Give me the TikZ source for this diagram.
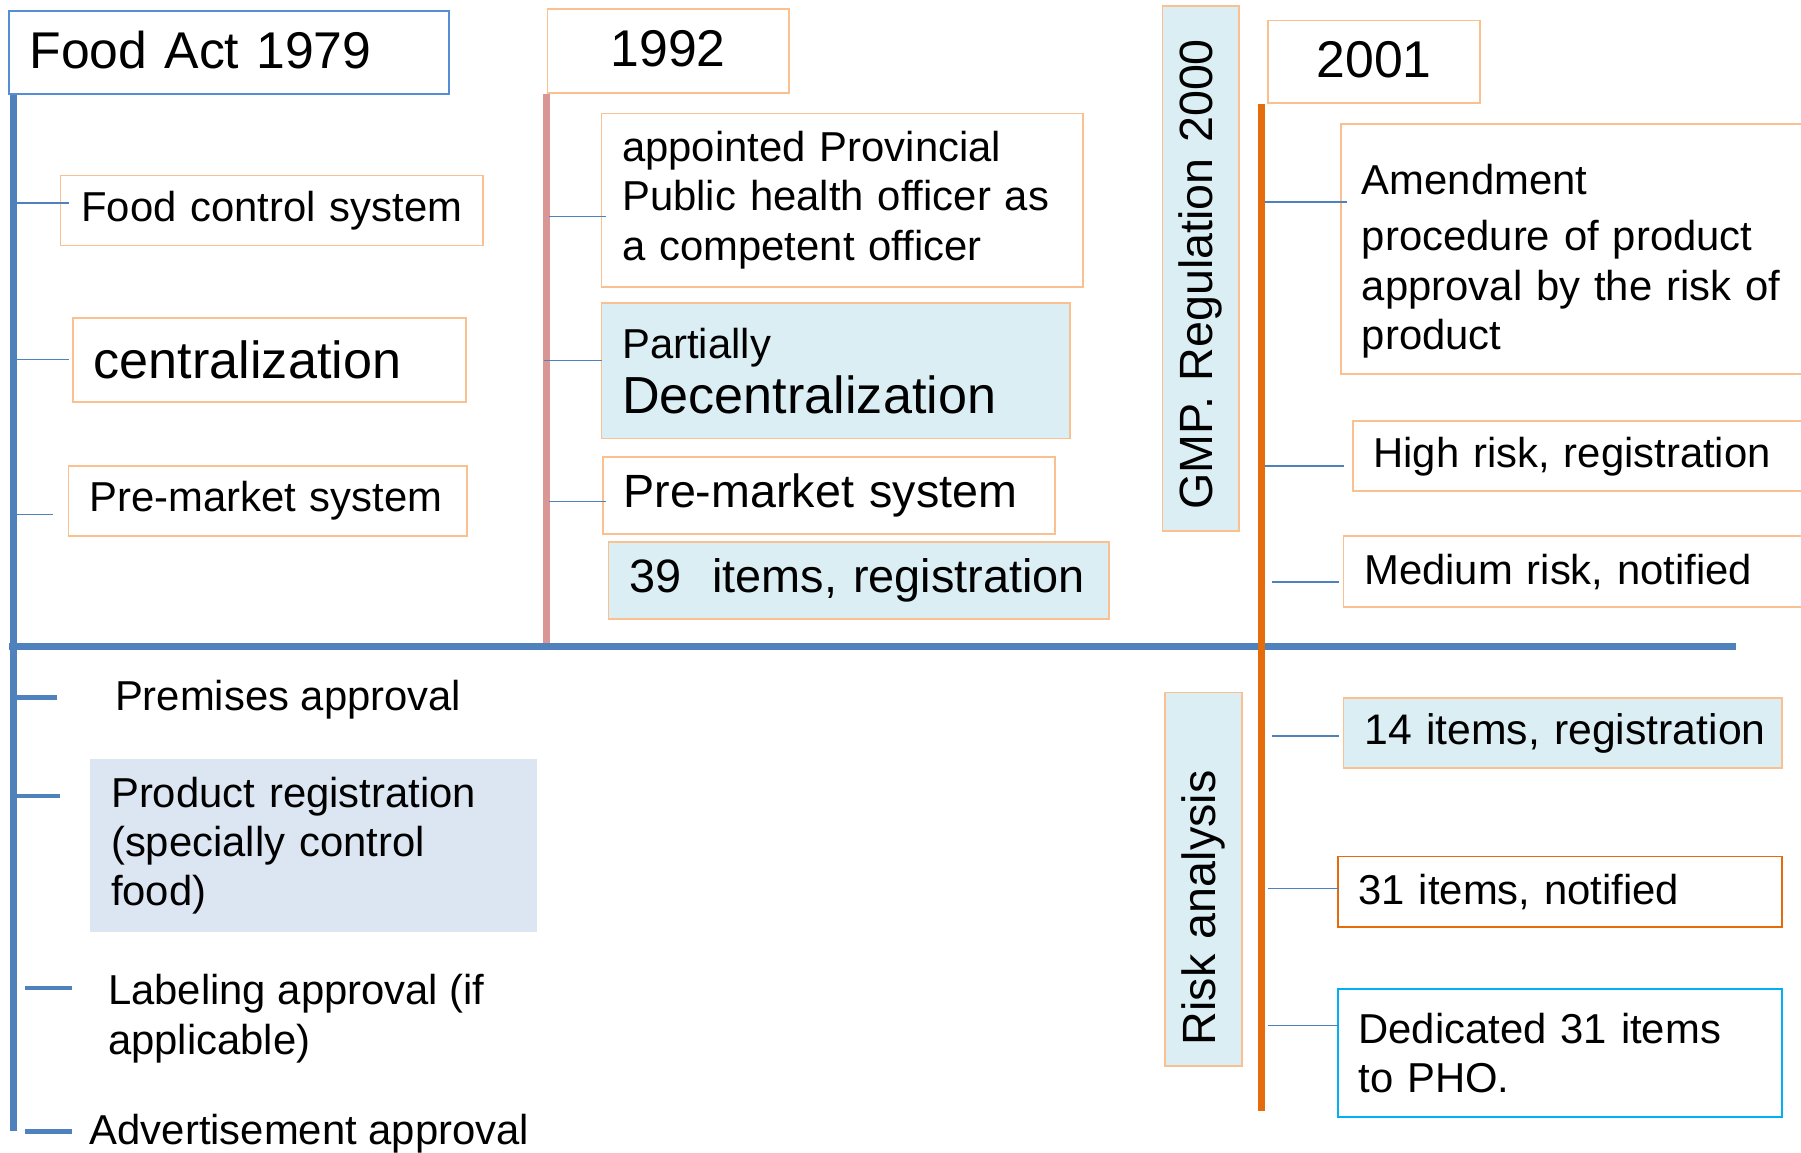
\documentclass[tikz,border=0pt]{standalone}
\usepackage{fontspec}
\setmainfont{Liberation Sans}
\usepackage{tikz}

\definecolor{barblue}{HTML}{4F81BD}
\definecolor{barpink}{HTML}{D99694}
\definecolor{barorange}{HTML}{E46C0A}
\definecolor{boxorange}{HTML}{FAC090}
\definecolor{actblue}{HTML}{558ED5}
\definecolor{fillblue}{HTML}{DBEEF4}
\definecolor{fillgray}{HTML}{DCE6F2}
\definecolor{boxcyan}{HTML}{00B0F0}
\newcommand{\fsz}[2]{\fontsize{#1}{#2}\selectfont}

\begin{document}
\begin{tikzpicture}[x=1pt,y=-1pt,
  box/.style={draw=boxorange,line width=1.5pt,anchor=north west,inner xsep=18pt,inner ysep=0pt,align=left,font=\fsz{36.4}{43}},
  sidebox/.style={box,fill=fillblue,rotate=90,anchor=center,font=\fsz{40.6}{48}},
  plain/.style={inner sep=0pt,align=left,font=\fsz{36.4}{43}},
  link/.style={barblue,line width=1.2pt},
  tick/.style={barblue,line width=4pt},
  bar/.style={line width=6pt}]
  \useasboundingbox (0,0) rectangle (1568,1003);

  \node[box,draw=actblue,minimum height=72pt,text width=347pt,font=\fsz{45}{52}] (act) at (7,9) {\raisebox{4pt}{Food Act 1979}};
  \node[box,minimum height=73pt,text width=174pt,align=center,font=\fsz{45}{52}] (y92) at (476,7) {\raisebox{4pt}{1992}};
  \node[box,minimum height=72pt,text width=149pt,align=center,font=\fsz{45}{52}] (y01) at (1103,17) {\raisebox{4pt}{2001}};

  \coordinate (actend) at (12,985);
  \coordinate (y92end) at (476,562);
  \coordinate (y01end) at (1098,967);
  \coordinate (axisL) at (8,563);
  \coordinate (axisR) at (1511,563);

  \draw[bar,barblue] ([xshift=5pt]act.south west) -- (actend);
  \draw[bar,barpink] (y92.south west) -- (y92end);
  \draw[bar,barblue] (axisL) -- (axisR);
  \draw[bar,barorange] ([xshift=-5pt]y01.south west) -- (y01end);

  \node[box,minimum height=61pt,text width=332pt] (fcs) at (52,152) {\mbox{Food control system}};
  \node[box,minimum height=73pt,text width=306pt,font=\fsz{45.4}{52}] (cen) at (63,276) {\mbox{centralization}};
  \node[box,minimum height=61pt,text width=311pt] (pms) at (59,405) {\mbox{Pre-market system}};

  \node[box,minimum height=151pt,text width=383pt] (app) at (523,98) {appointed Provincial\\Public health officer as\\a competent officer};
  \node[box,fill=fillblue,minimum height=118pt,text width=372pt,font=\fsz{36.4}{48}] (dec) at (523,263) {Partially\\{\fsz{45.4}{48}Decentralization}};
  \node[box,minimum height=67pt,text width=358pt,font=\fsz{40.6}{48}] (pm2) at (524,397) {\mbox{Pre-market system}};
  \node[box,fill=fillblue,minimum height=67pt,text width=400pt,font=\fsz{40.8}{48}] (i39) at (529,471) {\mbox{39\ \ items, registration}};

  \node[sidebox,minimum width=457pt,minimum height=67pt,text width=421pt] (gmp) at (1045.5,233.5) {\mbox{GMP. Regulation 2000}};
  \node[sidebox,minimum width=325pt,minimum height=67pt,text width=289pt] (risk) at (1047.5,765.5) {\mbox{Risk analysis}};

  \node[box,minimum height=218pt,text width=397pt] (amd) at (1167,107) {\rule{0pt}{48pt}Amendment\\[6pt]procedure of product\\approval by the risk of\\product};
  \node[box,minimum height=61pt,text width=387pt] (hig) at (1177,366) {\mbox{High risk, registration}};
  \node[box,minimum height=62pt,text width=395pt] (med) at (1169,466) {\mbox{Medium risk, notified}};
  \node[box,fill=fillblue,minimum height=61pt,text width=346pt,font=\fsz{37.2}{44}] (i14) at (1169,607) {\mbox{14 items, registration}};
  \node[box,draw=barorange,minimum height=61pt,text width=351pt] (i31) at (1164,745) {\mbox{31 items, notified}};
  \node[box,draw=boxcyan,minimum height=112pt,text width=351pt] (ded) at (1164,860) {Dedicated 31 items\\to PHO.};

  \node[plain,anchor=west] (pre) at (100,609) {Premises approval};
  \node[box,draw=none,fill=fillgray,minimum height=151pt,text width=353pt] (prd) at (78,660) {Product registration\\(specially control\\food)};
  \node[plain,anchor=west] (lab) at (94,887) {Labeling approval (if\\applicable)};
  \node[plain,anchor=west] (adv) at (78,987) {Advertisement approval};

  \draw[link] (actend |- fcs.west) ++(0,-6.5) -- ++(48,0);
  \draw[link] (actend |- cen.west) -- ++(48,0);
  \draw[link] (actend |- pms.west) ++(2,11.5) -- ++(32,0);
  \draw[link] (y92end |- app.west) ++(2,14.5) -- ++(50,0);
  \draw[link] (y92end |- dec.west) ++(-2,-9) -- ++(50,0);
  \draw[link] (y92end |- pm2.west) ++(2,5.5) -- ++(50,0);
  \draw[link] (y01end |- amd.west) ++(3,-41) -- ++(72,0);
  \draw[link] (y01end |- hig.west) ++(3,8.5) -- ++(69,0);
  \draw[link] (y01end |- med.west) ++(9,9) -- ++(59,0);
  \draw[link] (y01end |- i14.west) ++(9,2.5) -- ++(59,0);
  \draw[link] (y01end |- i31.west) ++(6,-2.5) -- ++(62,0);
  \draw[link] (y01end |- ded.west) ++(6,-24) -- ++(62,0);

  \draw[tick] (actend |- pre.west) ++(2,-2) -- ++(36,0);
  \draw[tick] (actend |- prd.north west) ++(2,33) -- ++(38,0);
  \draw[tick] (actend |- lab.west) ++(10,-27) -- ++(41,0);
  \draw[tick] (actend |- adv.west) ++(10,-2) -- ++(41,0);
\end{tikzpicture}
\end{document}
